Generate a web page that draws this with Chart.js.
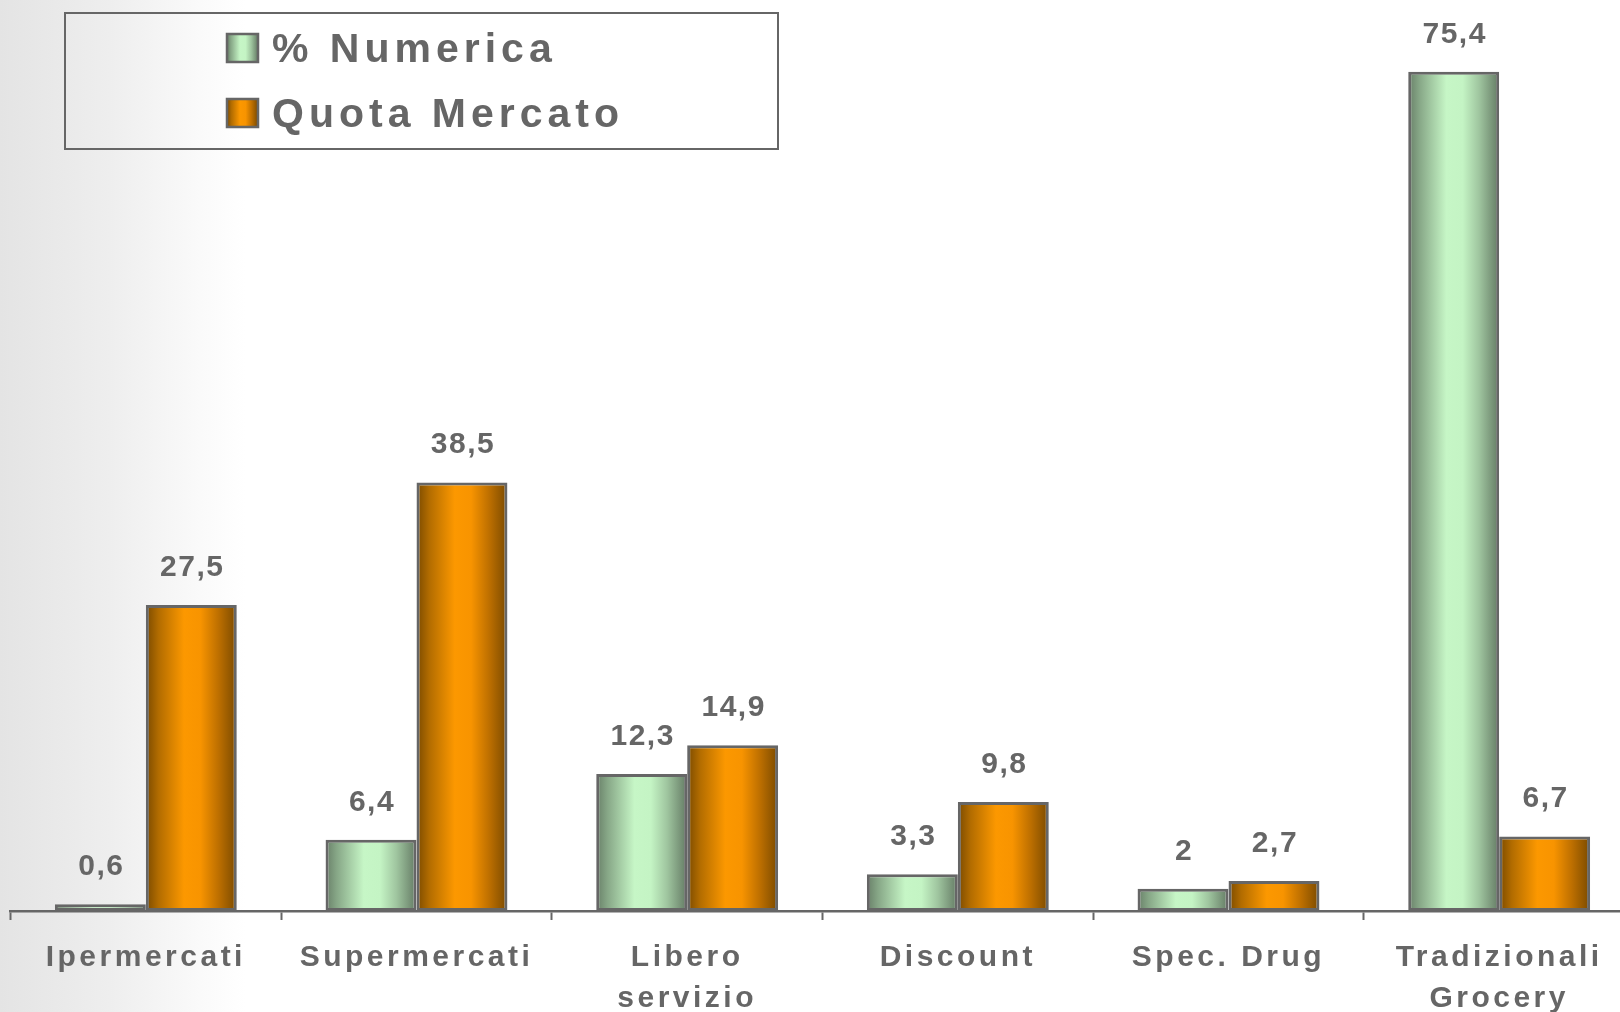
<!DOCTYPE html>
<html lang="it">
<head>
<meta charset="utf-8">
<title>% Numerica e Quota Mercato per canale</title>
<script src="https://cdn.jsdelivr.net/npm/chart.js@4/dist/chart.umd.min.js"></script>
<style>
  html, body {
    margin: 0;
    padding: 0;
    width: 1620px;
    height: 1012px;
    overflow: hidden;
    background: linear-gradient(to right, #e4e4e4 0px, #eeeeee 110px, #fafafa 200px, #ffffff 245px);
  }
  #wrap { position: absolute; left: 0; top: 0; }
  canvas { display: block; }
</style>
</head>
<body>
<div id="wrap"><canvas id="chart" width="1645" height="1036"></canvas></div>
<script>
// Channels and the two series shown for each
const categories = ['Ipermercati', 'Supermercati', ['Libero', 'servizio'], 'Discount', 'Spec. Drug', ['Tradizionali', 'Grocery']];
const seriesNames = ['% Numerica', 'Quota Mercato'];
const numerica = [0.6, 6.4, 12.3, 3.3, 2, 75.4];
const quotaMercato = [27.5, 38.5, 14.9, 9.8, 2.7, 6.7];

const TEXT = '#666666';
const EDGE = '#666666';
const CAT_PCT = 0.672;

// Horizontal "cylinder" shading stops for each series
const greenStops = [[0, '#687f68'], [0.12, '#86a686'], [0.42, '#c6f6c6'], [0.6, '#c4f4c4'], [0.78, '#9fc59f'], [1, '#647a64']];
const orangeStops = [[0, '#7a4a00'], [0.14, '#b26c00'], [0.42, '#fc9800'], [0.6, '#f89400'], [0.8, '#bd6f00'], [1, '#7a4a00']];

function fillStops(g, stops) {
  stops.forEach(([o, c]) => g.addColorStop(o, c));
  return g;
}

// Gradient spanning exactly the bar drawn for this data point
function barGradient(stops) {
  return (c) => {
    const chart = c.chart;
    const xs = chart.scales && chart.scales.x;
    if (c.type !== 'data' || !chart.chartArea || !xs) return stops[2][1];
    const n = chart.data.labels.length;
    const nd = chart.data.datasets.length;
    const catW = (xs.right - xs.left) / n;
    const groupW = catW * CAT_PCT;
    const barW = groupW / nd;
    const left = xs.getPixelForValue(c.dataIndex) - groupW / 2 + c.datasetIndex * barW;
    return fillStops(chart.ctx.createLinearGradient(left, 0, left + barW, 0), stops);
  };
}

const fmt = (v) => String(v).replace('.', ',');

// Spaced lettering for the axis labels
const spacing = {
  id: 'spacing',
  beforeDraw(chart) { chart.ctx.letterSpacing = '3.5px'; }
};

// Value written above every bar
const valueLabels = {
  id: 'valueLabels',
  afterDatasetsDraw(chart) {
    const ctx = chart.ctx;
    ctx.save();
    ctx.letterSpacing = '1.5px';
    ctx.font = 'bold 30px "Liberation Sans", Arial, sans-serif';
    ctx.fillStyle = TEXT;
    ctx.textAlign = 'center';
    ctx.textBaseline = 'alphabetic';
    chart.data.datasets.forEach((ds, di) => {
      chart.getDatasetMeta(di).data.forEach((bar, i) => {
        ctx.fillText(fmt(ds.data[i]), bar.x + 1, bar.y - 29);
      });
    });
    ctx.restore();
  }
};

// Boxed legend in the upper left
const boxLegend = {
  id: 'boxLegend',
  afterDraw(chart) {
    const ctx = chart.ctx;
    const stopsList = [greenStops, orangeStops];
    ctx.save();
    ctx.strokeStyle = EDGE;
    ctx.lineWidth = 2;
    ctx.strokeRect(65, 13, 713, 136);
    ctx.font = 'bold 41px "Liberation Sans", Arial, sans-serif';
    ctx.letterSpacing = '5px';
    ctx.textAlign = 'left';
    ctx.textBaseline = 'alphabetic';
    chart.data.datasets.forEach((ds, i) => {
      const sy = 34 + i * 65;
      const g = fillStops(ctx.createLinearGradient(227, 0, 258, 0), stopsList[i]);
      ctx.fillStyle = g;
      ctx.fillRect(227, sy, 31, 28);
      ctx.lineWidth = 2.5;
      ctx.strokeStyle = EDGE;
      ctx.strokeRect(227, sy, 31, 28);
      ctx.fillStyle = TEXT;
      ctx.fillText(ds.label, 272, 62 + i * 65);
    });
    ctx.restore();
  }
};

new Chart(document.getElementById('chart'), {
  type: 'bar',
  data: {
    labels: categories,
    datasets: [
      {
        label: seriesNames[0],
        data: numerica,
        backgroundColor: barGradient(greenStops),
        borderColor: EDGE,
        borderWidth: 3,
        borderSkipped: false
      },
      {
        label: seriesNames[1],
        data: quotaMercato,
        backgroundColor: barGradient(orangeStops),
        borderColor: EDGE,
        borderWidth: 3,
        borderSkipped: false
      }
    ]
  },
  options: {
    responsive: false,
    devicePixelRatio: 1,
    animation: false,
    events: [],
    layout: { padding: { left: 10.5, right: 10.5, top: 20.6, bottom: 0 } },
    datasets: { bar: { categoryPercentage: CAT_PCT, barPercentage: 1 } },
    plugins: {
      legend: { display: false },
      tooltip: { enabled: false },
      title: { display: false }
    },
    scales: {
      y: {
        display: false,
        min: 0,
        max: 80
      },
      x: {
        grid: {
          offset: true,
          drawOnChartArea: false,
          drawTicks: true,
          tickLength: 9,
          tickWidth: 2,
          tickColor: EDGE
        },
        border: { display: true, color: EDGE, width: 2.5 },
        ticks: {
          color: TEXT,
          padding: 17,
          maxRotation: 0,
          autoSkip: false,
          font: { family: '"Liberation Sans", Arial, sans-serif', size: 30, weight: 'bold', lineHeight: 41 / 30 }
        }
      }
    }
  },
  plugins: [spacing, valueLabels, boxLegend]
});
</script>
</body>
</html>
